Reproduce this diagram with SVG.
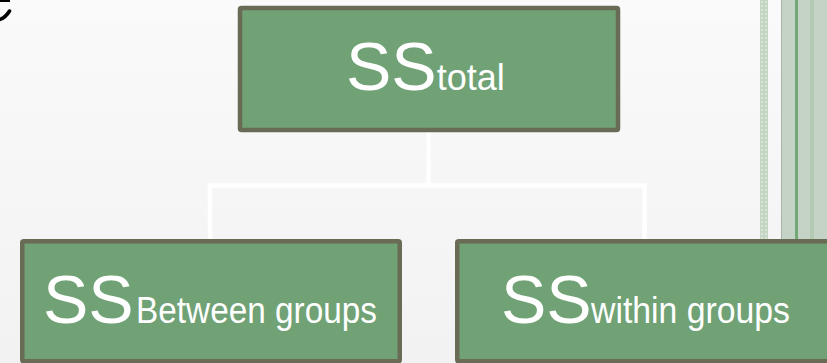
<svg xmlns="http://www.w3.org/2000/svg" width="827" height="363" viewBox="0 0 827 363">
  <defs>
    <linearGradient id="bg" x1="0" y1="0" x2="0" y2="1">
      <stop offset="0" stop-color="#fafafa"/>
      <stop offset="1" stop-color="#f2f2f2"/>
    </linearGradient>
    <pattern id="dots" width="4" height="4" patternUnits="userSpaceOnUse">
      <rect width="4" height="4" fill="#c4d5c4"/>
      <rect x="1" y="1" width="2" height="2" fill="#d9e4d9"/>
    </pattern>
    <style>
      .box { fill: #70a276; stroke: #696b55; stroke-width: 4.5; }
      .lbl { font-family: "Liberation Sans", Arial, sans-serif; fill: #ffffff; }
      .big { font-size: 68px; }
      .sub { font-size: 36px; }
      .wire { fill: none; stroke: #ffffff; stroke-width: 4.5; }
    </style>
  </defs>

  <!-- page background -->
  <rect width="827" height="363" fill="url(#bg)"/>

  <!-- decorative stripes along the right edge -->
  <g id="stripes">
    <rect x="760" y="0" width="8" height="240" fill="url(#dots)"/>
    <rect x="781" y="0" width="46" height="240" fill="#c5d3c6"/>
    <rect x="781" y="0" width="1" height="240" fill="#a9b5a9"/>
    <rect x="795" y="0" width="3" height="240" fill="#73a878"/>
    <rect x="810" y="0" width="4" height="240" fill="#b4cab5"/>
  </g>

  <!-- clipped stroke in the top-left corner -->
  <g id="corner-mark" fill="none" stroke="#000000">
    <path d="M0,1 H10" stroke-width="2"/>
    <path d="M0,19.5 Q6,17 9.5,11" stroke-width="3.5" stroke-linecap="round"/>
  </g>

  <!-- tree connectors -->
  <g id="connectors" class="wire">
    <path class="wire" d="M428.5,132 V185.5"/>
    <path class="wire" d="M210,239 V185.5 H644.5 V239"/>
  </g>

  <g id="node-total">
    <rect class="box" x="240" y="8" width="378" height="122" rx="1.5"/>
    <text class="lbl" x="346" y="90"><tspan class="big">SS</tspan><tspan class="sub">total</tspan></text>
  </g>

  <g id="node-between">
    <rect class="box" x="22.25" y="241.25" width="377.5" height="120" rx="1.5"/>
    <text class="lbl big" x="43" y="323">SS</text>
    <text class="lbl sub" x="136" y="323" textLength="241" lengthAdjust="spacingAndGlyphs">Between groups</text>
  </g>

  <g id="node-within">
    <rect class="box" x="457.25" y="241.25" width="400" height="120" rx="1.5"/>
    <text class="lbl big" x="501" y="323">SS</text>
    <text class="lbl sub" x="591" y="323" textLength="199" lengthAdjust="spacingAndGlyphs">within groups</text>
  </g>
</svg>
